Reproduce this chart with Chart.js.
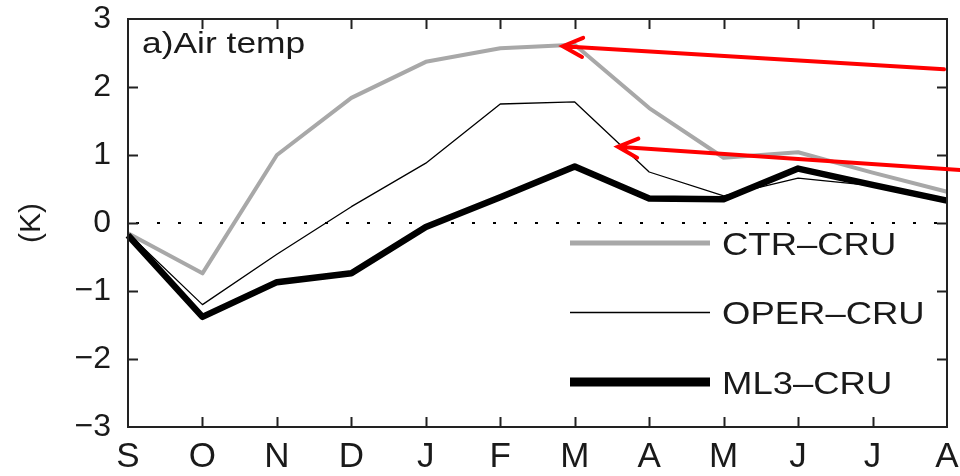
<!DOCTYPE html>
<html>
<head>
<meta charset="utf-8">
<script src="https://cdn.jsdelivr.net/npm/chart.js@4"></script>
<style>
  html, body { margin: 0; padding: 0; background: #fff; }
  #wrap { width: 960px; height: 476px; position: relative; }
</style>
</head>
<body>
<div id="wrap"><canvas id="chart"></canvas></div>
<script>
// Monthly mean air temperature difference vs CRU (K)
const MONTHS   = ['S','O','N','D','J','F','M','A','M','J','J','A'];
const CTR_CRU  = [-0.15, -0.74, 1.00, 1.84, 2.37, 2.57, 2.62, 1.69, 0.96, 1.04, 0.74, 0.46];
const OPER_CRU = [-0.15, -1.20, -0.46, 0.24, 0.88, 1.75, 1.78, 0.75, 0.40, 0.66, 0.55, 0.36];
const ML3_CRU  = [-0.18, -1.38, -0.87, -0.74, -0.06, 0.38, 0.83, 0.36, 0.35, 0.80, 0.56, 0.33];
const Y_MIN = -3, Y_MAX = 3;

// highlight arrows: [tailX, tailY, tipX, tipY] in month index / K
const ARROWS = [
  [10.96, 2.26, 5.84, 2.60],
  [11.19, 0.78, 6.58, 1.12]
];

const FONT = "'Liberation Sans', Arial, Helvetica, sans-serif";
const INK  = '#1a1a1a';

const frame = {
  id: 'frame',
  beforeDatasetsDraw(chart) {
    const { ctx, chartArea: a, scales: { y } } = chart;
    // dotted zero line
    const y0 = y.getPixelForValue(0);
    ctx.save();
    ctx.strokeStyle = '#000';
    ctx.lineWidth = 2;
    ctx.setLineDash([3, 18]);
    ctx.beginPath();
    ctx.moveTo(a.left + 8, y0);
    ctx.lineTo(a.right, y0);
    ctx.stroke();
    ctx.restore();
  },
  afterDatasetsDraw(chart) {
    const { ctx, chartArea: a, scales: { x, y } } = chart;
    ctx.save();
    // box + inward ticks
    ctx.strokeStyle = '#222';
    ctx.lineWidth = 2;
    ctx.strokeRect(a.left, a.top, a.right - a.left, a.bottom - a.top);
    ctx.beginPath();
    for (let i = 1; i < MONTHS.length - 1; i++) {
      const px = Math.round(x.getPixelForValue(i)) + 0.5;
      ctx.moveTo(px, a.bottom); ctx.lineTo(px, a.bottom - 10);
      ctx.moveTo(px, a.top);    ctx.lineTo(px, a.top + 10);
    }
    for (let v = Y_MIN + 1; v < Y_MAX; v++) {
      const py = Math.round(y.getPixelForValue(v)) + 0.5;
      ctx.moveTo(a.left, py);  ctx.lineTo(a.left + 10, py);
      ctx.moveTo(a.right, py); ctx.lineTo(a.right - 10, py);
    }
    ctx.stroke();

    // panel label
    ctx.fillStyle = INK;
    ctx.font = `30px ${FONT}`;
    ctx.textBaseline = 'alphabetic';
    ctx.save();
    ctx.translate(a.left + 14, a.top + 34);
    ctx.scale(1.18, 1);
    ctx.fillText('a)Air temp', 0, 0);
    ctx.restore();

    // y axis title
    ctx.save();
    ctx.translate(32, y.getPixelForValue(0));
    ctx.rotate(-Math.PI / 2);
    ctx.textAlign = 'center';
    ctx.textBaseline = 'middle';
    ctx.font = `30px ${FONT}`;
    ctx.fillText('(K)', 0, 0);
    ctx.restore();

    // legend
    const rows = chart.data.datasets;
    const lx0 = 570, lx1 = 710;
    rows.slice().reverse().forEach((ds, i) => {
      const ly = 243 + i * 69.5;
      ctx.strokeStyle = ds.borderColor;
      ctx.lineWidth = ds.legendWidth;
      ctx.beginPath();
      ctx.moveTo(lx0, ly); ctx.lineTo(lx1, ly);
      ctx.stroke();
      ctx.save();
      ctx.translate(722, ly + 11.5);
      ctx.scale(1.14, 1);
      ctx.fillStyle = INK;
      ctx.font = `32px ${FONT}`;
      ctx.textAlign = 'left';
      ctx.fillText(ds.label, 0, 0);
      ctx.restore();
    });

    // red arrows
    ctx.strokeStyle = '#ff0000';
    ctx.lineWidth = 4;
    ctx.lineCap = 'round';
    ARROWS.forEach(([tx, ty, hx, hy]) => {
      const x1 = x.getPixelForValue(tx), y1 = y.getPixelForValue(ty);
      const x2 = x.getPixelForValue(hx), y2 = y.getPixelForValue(hy);
      const ang = Math.atan2(y2 - y1, x2 - x1);
      const L = 22, spread = 0.45;
      ctx.beginPath();
      ctx.moveTo(x1, y1); ctx.lineTo(x2, y2);
      ctx.moveTo(x2 - L * Math.cos(ang - spread), y2 - L * Math.sin(ang - spread));
      ctx.lineTo(x2, y2);
      ctx.lineTo(x2 - L * Math.cos(ang + spread), y2 - L * Math.sin(ang + spread));
      ctx.stroke();
    });
    ctx.restore();
  }
};

new Chart(document.getElementById('chart'), {
  type: 'line',
  data: {
    labels: MONTHS,
    datasets: [
      { label: 'ML3\u2013CRU',  data: ML3_CRU,  borderColor: '#000',    borderWidth: 6.5, legendWidth: 9,   order: 0 },
      { label: 'OPER\u2013CRU', data: OPER_CRU, borderColor: '#000',    borderWidth: 1.3, legendWidth: 1.6, order: 1 },
      { label: 'CTR\u2013CRU',  data: CTR_CRU,  borderColor: '#a8a8a8', borderWidth: 4,   legendWidth: 5,   order: 2 }
    ].map(d => Object.assign(d, {
      pointRadius: 0, tension: 0, fill: false,
      borderJoinStyle: 'round', borderCapStyle: 'butt'
    }))
  },
  options: {
    responsive: true,
    maintainAspectRatio: false,
    animation: false,
    layout: { padding: { left: 0, right: 13, top: 19, bottom: 0 } },
    plugins: { legend: { display: false }, tooltip: { enabled: false } },
    scales: {
      x: {
        type: 'category',
        offset: false,
        grid: { display: false, drawTicks: false },
        border: { display: false },
        afterFit: s => { s.height = 49; s.paddingLeft = 0; s.paddingRight = 0; },
        ticks: {
          autoSkip: false, maxRotation: 0, padding: 9,
          color: INK, font: { family: FONT, size: 35 }
        }
      },
      y: {
        min: Y_MIN, max: Y_MAX,
        grid: { display: false, drawTicks: false },
        border: { display: false },
        afterFit: s => { s.width = 128; s.paddingTop = 0; s.paddingBottom = 0; },
        ticks: {
          stepSize: 1, padding: 17,
          color: INK, font: { family: FONT, size: 32 },
          callback: v => String(v).replace('-', '\u2212')
        }
      }
    }
  },
  plugins: [frame]
});
</script>
</body>
</html>
